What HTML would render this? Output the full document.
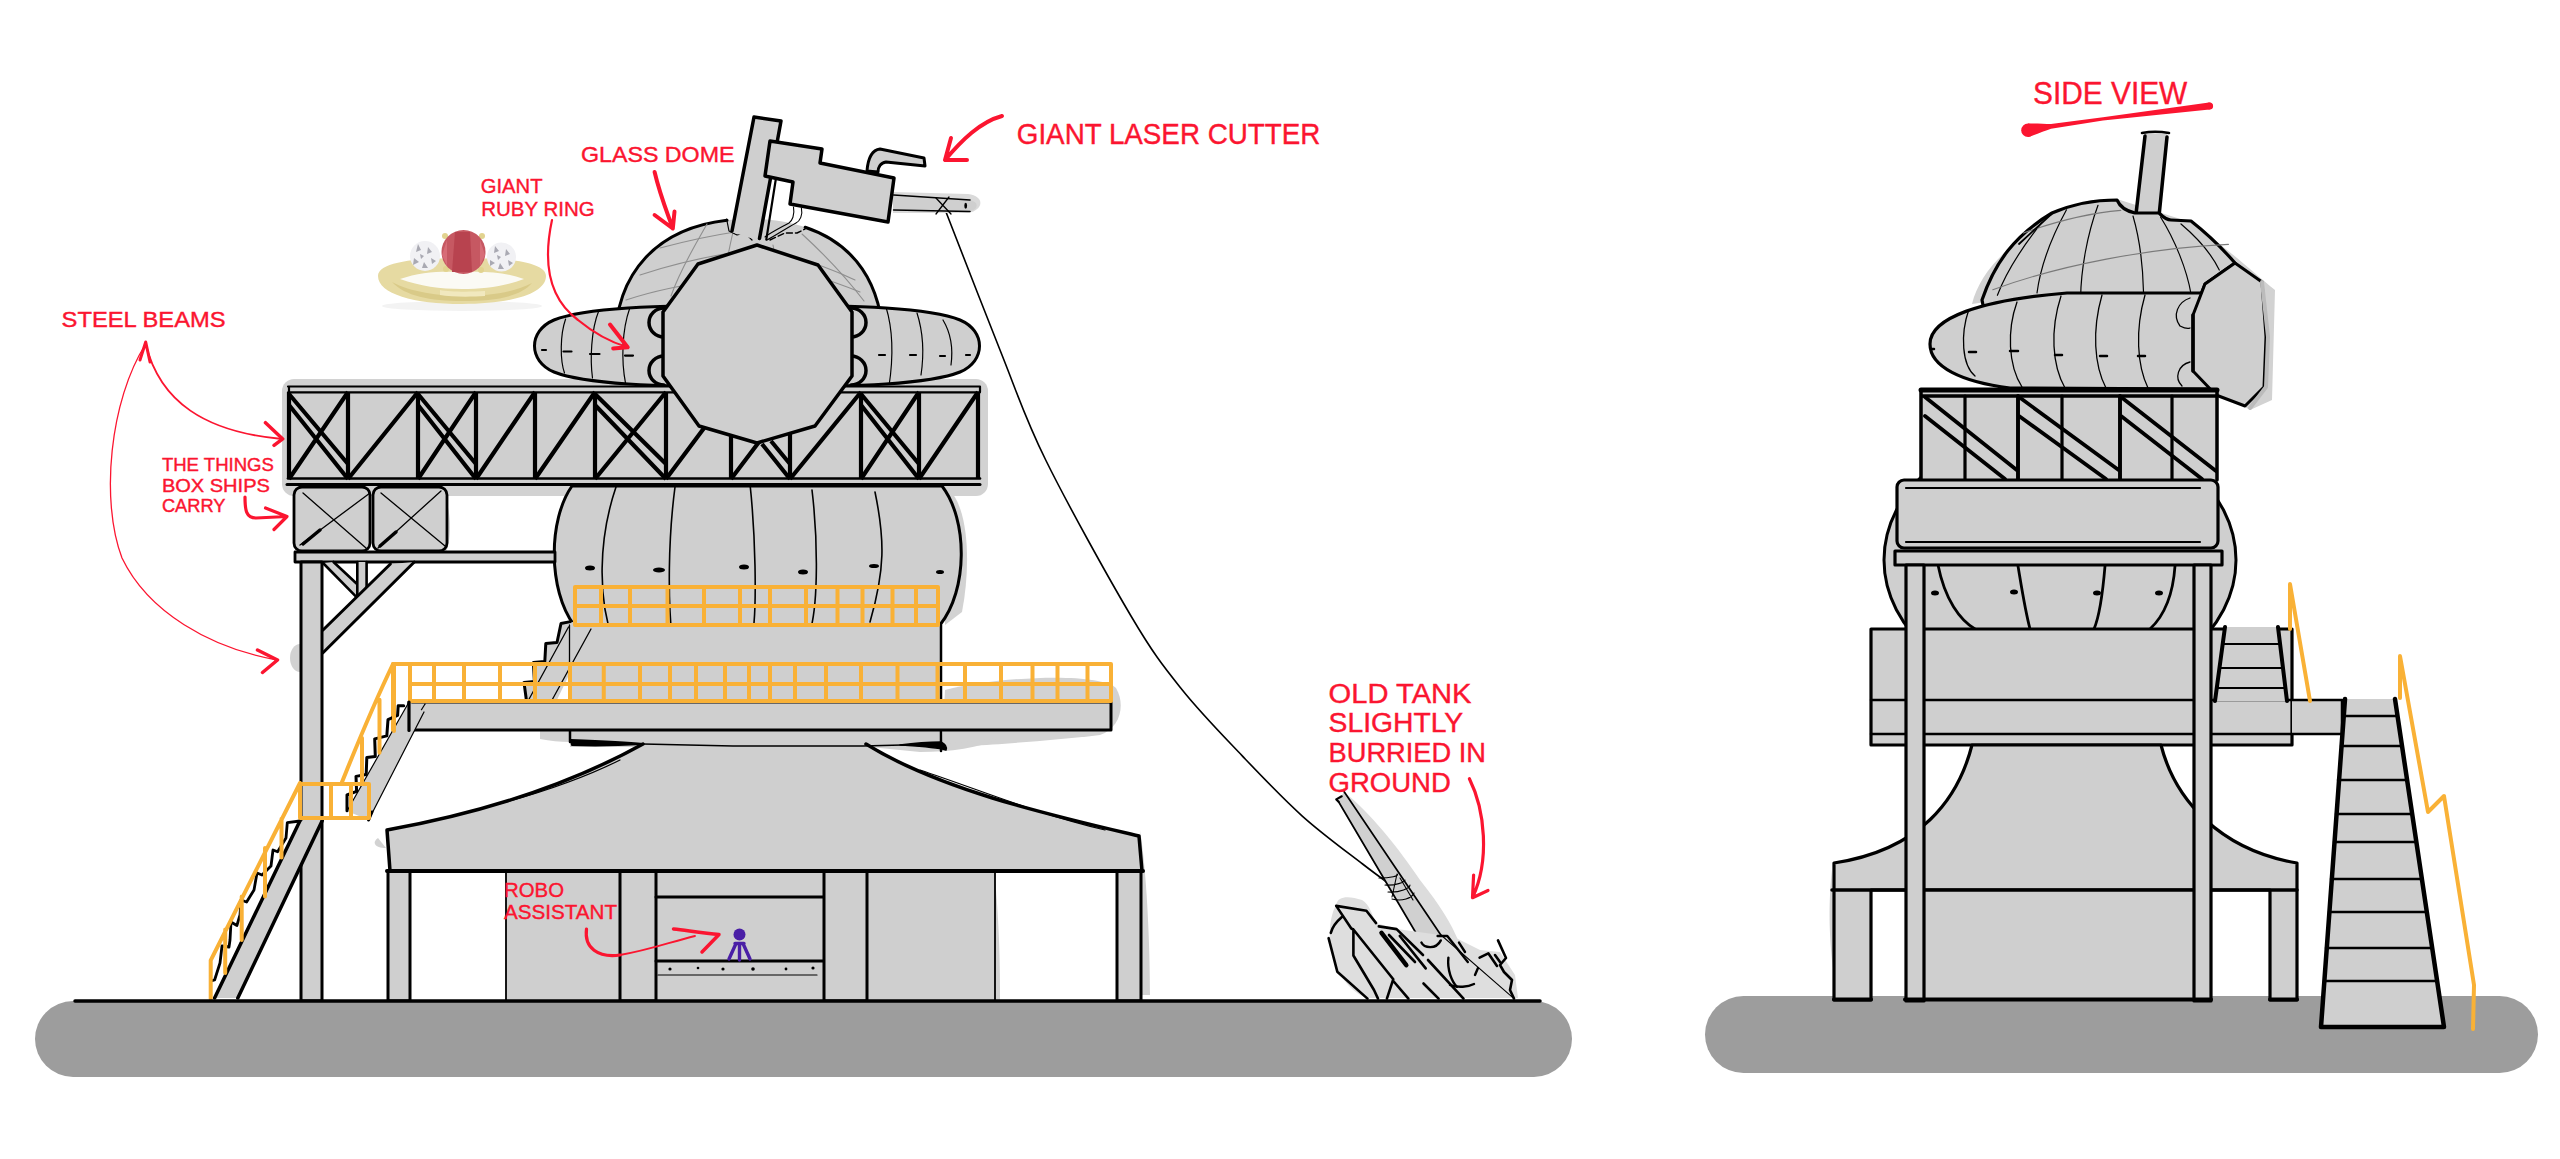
<!DOCTYPE html>
<html><head><meta charset="utf-8"><style>
html,body{margin:0;padding:0;background:#fff;width:2560px;height:1159px;overflow:hidden}
svg{display:block}
text{font-family:"Liberation Sans",sans-serif;fill:#fb1530;stroke:#fb1530;stroke-width:0.4px}
</style></head><body>
<svg width="2560" height="1159" viewBox="0 0 2560 1159">
<defs>
  <clipPath id="ringclip"><path d="M757 305 C860 305 930 308 960 320 C986 331 986 361 960 372 C930 384 860 387 757 387 C654 387 584 384 554 372 C528 361 528 331 554 320 C584 308 654 305 757 305 Z"/></clipPath>
  <clipPath id="bandclip"><path d="M2212 389 L2010 388 C1962 382 1930 367 1930 344 C1930 318 1980 300 2067 293 L2202 293 L2212 389 Z"/></clipPath>
</defs>
<rect x="0" y="0" width="2560" height="1159" fill="#fff"/>

<!-- ============ LEFT VIEW ============ -->
<g id="left" stroke="#000" stroke-linejoin="round" stroke-linecap="round">
  <!-- shadows -->
  <g fill="#d2d2d2" stroke="none">
    <rect x="282" y="379" width="706" height="117" rx="12"/>
    <path d="M540 731 L570 731 L570 742 C560 742 550 741 540 739 Z"/>
    <path d="M440 492 C452 500 452 540 446 552 L440 552 Z"/>
    <path d="M945 690 C1000 676 1100 672 1116 688 C1126 705 1120 728 1100 735 C1040 742 960 747 942 747 Z"/>
    <path d="M943 485 C968 498 972 560 962 612 L945 625 Z"/>
    <path d="M860 746 C900 748 940 745 1000 738 C980 748 950 752 920 752 Z"/>
    <path d="M1140 830 C1148 880 1150 960 1150 995 L1141 995 L1141 850 Z"/>
    <path d="M995 880 C1000 930 1000 980 1000 1000 L990 1000 Z"/>
    <ellipse cx="300" cy="658" rx="10" ry="14"/>
    <path d="M378 838 C372 842 374 848 386 848 Z"/>
    
  </g>

  <!-- laser line -->
  <path d="M946 212 C955.1 235.2 983.8 309.7 1000.4 351 C1017.0 392.3 1023.9 415.8 1045.7 460 C1067.5 504.2 1108.4 577.8 1131 616 C1153.6 654.2 1163.0 665.8 1181.5 689 C1200.0 712.2 1221.7 734.3 1241.8 755.4 C1261.9 776.5 1281.9 797.7 1302 815.8 C1322.1 833.9 1347.1 852.0 1362.6 864 C1378.1 876.0 1389.6 884.0 1395 888" fill="none" stroke-width="1.6"/>

  <!-- dome -->
  <path d="M615 345 C615 262 670 219 750 219 C830 219 883 262 883 345 Z" fill="#cfcfcf" stroke="none"/>
  <path d="M615 345 C615 262 670 219 750 219 C830 219 883 262 883 345" fill="none" stroke-width="3" stroke-dasharray="186.3 79 200"/>
  <g fill="none" stroke="#8f8f8f" stroke-width="1.1">
    <path d="M626 300 C650 292 680 285 720 280"/>
    <path d="M640 275 C670 265 700 258 730 253"/>
    <path d="M660 248 C690 240 715 235 735 232"/>
    <path d="M707 224 C695 245 680 270 671 296"/>
    <path d="M733 232 C730 245 727 260 725 272"/>
    <path d="M802 234 C825 255 848 280 864 301"/>
    <path d="M769 250 C800 258 830 268 855 280"/>
    <path d="M812 275 C835 282 850 288 860 292"/>
    <path d="M773 245 C775 255 776 262 777 270"/>
  </g>
    <path d="M726.6 219 L729 231 L737 235 L745 233 L752 240" fill="none" stroke-width="1.2"/>
  <path d="M770 240 L785 233 L797 233 L805 229" fill="none" stroke-width="1.4" stroke-dasharray="6 3"/>

  <!-- laser arm -->
  <path d="M754 117 L781 121 L760 241 L731 232 Z" fill="#cfcfcf" stroke="none"/>
  <path d="M732 231 L754 117 L781 121 L759.5 238.5" fill="none" stroke-width="3.5"/>
  <path d="M776 178 L766.3 239.6" fill="none" stroke-width="2.2"/>
  <path d="M793.5 207 C795 215 792 221 789 223 C780 228 770 233 765 237 M801.4 208 C803 215 800 221 796 223 C785 229 775 236 767 240" fill="none" stroke-width="1.1"/>
  <path d="M867 171 C868 158 872 150 880 149 L924 158 L925 166 L886 162 C880 163 878 168 878 172 Z" fill="#cfcfcf" stroke-width="3"/>
  <path d="M893 192 L968 194 C985 196 984 210 968 213 L893 213 Z" fill="#dadada" stroke="none"/>
  <path d="M893 196 L970 200 C979 202 979 209 970 211.5 L893 210 Z" fill="#cfcfcf" stroke="none"/>
  <path d="M893.6 195 L970 200 M893.6 210 L970 211.5" fill="none" stroke-width="1.6"/>
  <path d="M936 198 L951 214 M949 197 L936 214" fill="none" stroke-width="1.3"/>
  <ellipse cx="965.7" cy="205.7" rx="1.4" ry="3" fill="#000" stroke="none"/>
  <path d="M770 141 L822 149 L820 163 L894 178 L888 222 L790 204 L793 182 L765 176 Z" fill="#cfcfcf" stroke-width="3.5"/>

  <!-- ring ellipse -->
  <path d="M757 305 C860 305 930 308 960 320 C986 331 986 361 960 372 C930 384 860 387 757 387 C654 387 584 384 554 372 C528 361 528 331 554 320 C584 308 654 305 757 305 Z" fill="#cfcfcf" stroke-width="3"/>
  <g fill="none" stroke-width="1.2" clip-path="url(#ringclip)">
    <path d="M565.6 319 C560 335 560 360 564.5 373"/>
    <path d="M598.7 311 C591 330 590 360 592.5 378"/>
    <path d="M629.8 308 C622 330 621 360 625.6 383.6"/>
    <path d="M886 307 C893 330 893 360 889 386"/>
    <path d="M917 313 C924 335 924 355 921 375"/>
    <path d="M943 320 C952 335 953 350 951 365"/>
  </g>
  <path d="M542 350 h4 M563.5 351.5 h8 M590 354 h9.5 M625 355.6 h8 M879 355 h6 M910 355 h6 M940 356 h5 M966 355 h4" fill="none" stroke-width="2.2"/>
  <path d="M664 308 A15 14.5 0 0 0 664 337 M664 356 A15 14.5 0 0 0 664 385 M851 308 A15 14.5 0 0 1 851 337 M851 356 A15 14.5 0 0 1 851 385" fill="#cfcfcf" stroke-width="3.5"/>

  <!-- truss -->
  <rect x="288" y="386" width="692" height="99" fill="#cfcfcf" stroke="none"/>
  <g fill="none" stroke-width="2.2">
    <path d="M288 386.5H980 M288 392.3H980 M980 386.5V392 M289 386.5V392"/>
    <path d="M288 478.5H980" stroke-width="2.6"/>
    <path d="M287 484.5H980" stroke-width="3"/>
  </g>
  <g fill="none" stroke-width="4.2" stroke-linecap="butt">
    <path d="M289 392V479 M348 392V479 M418 392V479 M476 392V479 M535 392V479 M595 392V479 M666 392V479 M731 392V479 M790 392V479 M861 392V479 M919 392V479 M978 392V479"/>
    <path d="M289 479L348 392 M289 394L348 464 M289 405L348 479 M348 479L418 392 M418 479L476 392 M418 394L476 464 M418 405L476 479 M476 479L535 392 M535 479L595 392 M595 479L666 392 M595 394L666 464 M595 405L666 479 M666 479L731 392 M731 479L760.5 440 M762 444L790 479 M771 441L790 464 M790 479L861 392 M861 479L919 392 M861 394L919 464 M861 405L919 479 M919 479L978 392"/>
  </g>

  <!-- decagon -->
  <path d="M757 245 L818 265 L852 312 L852 376 L815 426 L757 443 L699 426 L663 376 L663 312 L698 264 Z" fill="#cfcfcf" stroke-width="3.5"/>

  <!-- sphere body -->
  <path d="M572 486 C548 520 548 590 574 625 L940 625 C968 590 968 520 942 486 Z" fill="#cfcfcf" stroke-width="3"/>
  <g fill="none" stroke-width="1.6">
    <path d="M616 487 C598 540 598 600 613 640"/>
    <path d="M675 487 C668 540 668 600 672 638"/>
    <path d="M750 484 C756 540 756 600 754 623"/>
    <path d="M812 490 C818 540 818 600 811 628"/>
    <path d="M875 492 C885 540 885 570 870 622"/>
  </g>
  <g fill="#000" stroke="none">
    <ellipse cx="590" cy="568" rx="5" ry="2.5"/>
    <ellipse cx="659" cy="570" rx="6" ry="2.5"/>
    <ellipse cx="744" cy="567" rx="5" ry="2.5"/>
    <ellipse cx="803" cy="572" rx="5" ry="2.5"/>
    <ellipse cx="874" cy="566" rx="5" ry="2"/>
    <ellipse cx="940" cy="572" rx="4" ry="2"/>
  </g>
  <rect x="570" y="625" width="371" height="122" fill="#cfcfcf" stroke="none"/>
  <path d="M570 625 V742 M941 625 V751" fill="none" stroke-width="2.5"/>
  <!-- small stairs up to sphere railing -->
  <path d="M570.4 621.6 L561 623.5 L557 642.5 L545.8 643.5 L544.8 661.5 L533.4 662.4 L534.4 681.4 L524 682.4 L526.8 703.3 L555 704 L592 627 Z" fill="#cfcfcf" stroke="none"/>
  <path d="M570.4 621.6 L561 623.5 L557 642.5 L545.8 643.5 L544.8 661.5 L533.4 662.4 L534.4 681.4 L524 682.4 L526.8 703.3 M528.7 704 L555 704" fill="none" stroke-width="3"/>
  <path d="M568.5 627 L528 701 M591 629 L551.5 701 M569.5 625 V703" fill="none" stroke-width="1.3"/>

  <!-- upper railing -->
  <path d="M575 587H938 M575 606H938 M575 625H938 M575 587V625 M601 587V625 M630 587V625 M667.5 587V625 M704 587V625 M740 587V625 M770 587V625 M806 587V625 M837.5 587V625 M862.5 587V625 M892.5 587V625 M916 587V625 M938 587V625" fill="none" stroke="#f9b136" stroke-width="4"/>

  <!-- boxes -->
  <rect x="294" y="487" width="76" height="64" rx="8" fill="#cfcfcf" stroke-width="2.8"/>
  <rect x="373" y="487" width="74" height="64" rx="8" fill="#cfcfcf" stroke-width="2.8"/>
  <path d="M303 493 L366 548 M300 545 L370 493 M381 493 L445 546 M378 548 L441 491" fill="none" stroke-width="1.3"/>
  <path d="M303 544 L320 530 M380 546 L396 532" fill="none" stroke-width="3.5"/>
  <rect x="295" y="552" width="260" height="10" fill="#cfcfcf" stroke-width="2.8"/>
  <!-- pillar + braces -->
  <path d="M323 563 L333.5 562 L357.3 584.3 L357.3 562 L366.6 562 L366.6 588 L357.3 597 Z" fill="#cfcfcf" stroke="none"/>
  <path d="M323 563 L356.3 596.8 M333.5 562 L357.3 584.3 M357.3 562 V597 M366.6 562 V588" fill="none" stroke-width="2.6"/>
  <path d="M323 630 L390.4 564 L414.3 562 L323 652.7 Z" fill="#cfcfcf" stroke="none"/>
  <path d="M323 630 L390.4 564 M414.3 562 L323 652.7" fill="none" stroke-width="3"/>
  <rect x="301" y="562" width="21" height="439" fill="#cfcfcf" stroke-width="3"/>

  <!-- platform -->
  <rect x="409" y="702" width="702" height="28" fill="#cfcfcf" stroke-width="3"/>
  <path d="M425 704 L409 730" fill="none" stroke-width="1.2"/>
  <!-- lower railing -->
  <path d="M393 664H1111 M410 684H1111 M410 701H1111 M393 664V730 M410 664V701 M434 664V701 M464 664V701 M500 664V701 M535 664V701 M570 664V701 M603.75 664V701 M640 664V701 M670 664V701 M696 664V701 M725 664V701 M749 664V701 M770 664V701 M795 664V701 M826 664V701 M861 664V701 M897.5 664V701 M937.5 664V701 M965 664V701 M1001 664V701 M1032.5 664V701 M1057.5 664V701 M1087.5 664V701 M1111 664V701" fill="none" stroke="#f9b136" stroke-width="4"/>

  <!-- stairs -->
  <path d="M347 811 L409 702 L424 712 L368.6 820 Z" fill="#cfcfcf" stroke="none"/>
  <path d="M347 811 L409 702 M368.6 820 L424 712" fill="none" stroke-width="1.2"/>
  <path d="M368.6 820 L372 812" fill="none" stroke-width="3"/>
  <path d="M409 702 V730.5" fill="none" stroke-width="3.2"/>
  <path d="M403.7 705.7 L398.2 705.7 L397.6 715.4 L388 719.6 L386.8 735.9 L374.7 738.9 L375.3 756.4 L366.8 757.6 L366.2 774.5 L356 776.4 L356.6 791.4 L347 795 L347 810.8" fill="none" stroke-width="3"/>
  <path d="M214.6 998 L300 820.7 L322.2 820.7 L237.8 998 Z" fill="#cfcfcf" stroke="none"/>
  <path d="M214.6 998 L300 820.7 M237.8 998 L322.2 820.7" fill="none" stroke-width="3.5"/>
  <path d="M300 821 L287.3 822.7 L286 838 L277.6 851.8 L273 850 L271 866 L262 875 L257 873 L254 890 L246.6 902 L241 900 L240 915 L236.9 925.5 L231 922 L230 940 L229 947 L222 946 L220 963 L214.6 980 L211 981" fill="none" stroke-width="2.8"/>
  <path d="M210.7 999 V960.4 L300 783 M225.2 973 V929.4 M241.7 940 V896.4 M265 896.4 V848 M281.5 857.6 V818.8 M300 783 V818 M300 784 H369 V818 H300 M331 784 V818 M351 784 V818 M342 782 C355 750 370 712 393 664 M362 781.8 V738 M379.5 752.8 V699.7 M394 731 V664" fill="none" stroke="#f9b136" stroke-width="4"/>

  <!-- roof -->
  <path d="M641 745 C560 790 470 815 387 830 L390 871 L1142 871 L1139 836 C1050 815 940 790 867 745 Z" fill="#cfcfcf" stroke="none"/>
  <path d="M643 744 C560 790 470 815 387 830 L390 871 M1142 871 L1139 836 C1050 815 940 790 866 744" fill="none" stroke-width="3.5"/>
  <path d="M643 744 L733 746 L863 746 L941 744" fill="none" stroke-width="1.3"/>
  <path d="M571 740 C600 741 625 742 643 744 C625 745 600 746 572 745 Z" fill="#000" stroke-width="2"/>
  <path d="M900 745 C915 743 930 742 941 742 C945 744 947 747 946 750 C935 747 915 746 900 745 Z" fill="#000" stroke-width="1.5"/>

  <path d="M455 815 C520 800 580 780 620 760 M1105 830 C1040 815 980 790 920 770" fill="none" stroke="#000" stroke-width="1.2"/>
  <rect x="506" y="871" width="489" height="130" fill="#cfcfcf" stroke="none"/>
  <path d="M506 871 V1000 M995 871 V1000" fill="none" stroke-width="1.8"/>
  <rect x="620" y="871" width="36" height="130" fill="#cfcfcf" stroke-width="3"/>
  <rect x="824" y="871" width="43" height="130" fill="#cfcfcf" stroke-width="3"/>
  <path d="M656 897 H823 M656 961 H823" fill="none" stroke-width="3"/>
  <path d="M658 975 H817" fill="none" stroke-width="1.2"/>
  <g fill="#000" stroke="none">
    <circle cx="670" cy="969" r="1.6"/><circle cx="698" cy="968" r="1.3"/><circle cx="723" cy="969" r="1.6"/><circle cx="753" cy="969" r="1.8"/><circle cx="786" cy="969" r="1.4"/><circle cx="813" cy="968" r="1.6"/>
  </g>
  <rect x="388" y="871" width="22" height="130" fill="#cfcfcf" stroke-width="3"/>
  <rect x="1117" y="871" width="24" height="130" fill="#cfcfcf" stroke-width="3"/>
  <path d="M387 871 H1143" fill="none" stroke-width="4"/>

  <!-- robot -->
  <circle cx="739.5" cy="934.5" r="6" fill="#4a1fa6" stroke="none"/>
  <path d="M736 943.5 L729 959 M743 943.5 L750 959 M739.5 943.5 V960 M735 943.5 H744" fill="none" stroke="#4a1fa6" stroke-width="3.4"/>

  <!-- ground -->
  <rect x="35" y="1001" width="1537" height="76" rx="38" fill="#9d9d9d" stroke="none"/>
  <line x1="75" y1="1001" x2="1540" y2="1001" stroke-width="3.5"/>

  <!-- tank -->
  <g>
    <path d="M1344 792 C1370 812 1400 850 1420 880 C1440 905 1452 925 1458 940 L1421 942 L1338 802 Z" fill="#dcdcdc" stroke="none"/>
    <path d="M1344 792 L1441 935 L1421 942 L1338 802 Z" fill="#d0d0d0" stroke="none"/>
    <path d="M1344 791.6 L1441 935.3 M1338.6 801.7 L1421 941.5" fill="none" stroke-width="1.7"/>
    <path d="M1338.6 801.7 L1336.3 799.4 L1341.7 796.3" fill="none" stroke-width="2.2"/>
    <path d="M1379 878 C1390 878 1400 876 1397 874 M1385 885 C1395 886 1405 882 1405 880 M1388 892 C1400 893 1410 888 1410 885 M1392 899 C1402 902 1412 898 1414 893 M1397 874 L1392 897 M1400 878 L1413 900" fill="none" stroke-width="1.1"/>
<path d="M1336 905 C1338 895 1350 896 1362 900 C1370 905 1372 915 1376 923 L1397 929 L1440 935 L1452 936 L1480 950 L1500 952 L1515 975 L1518 998 L1367 998 C1345 990 1332 965 1330 940 C1329 925 1332 912 1336 905 Z" fill="#dedede" stroke="none"/>
    <path d="M1336.2 905.9 L1366.4 910.7 L1376.1 923.1 M1378.8 926.4 L1396.6 929.1 L1423 955 M1428 960 L1463.5 998.6 M1336.2 905.9 L1351.3 928.5 L1353.4 929.5 L1353.4 955.5 L1374 990 L1378 998.6 M1341.6 917.2 C1336 922 1332 928 1330.8 932.9 M1328.6 938.2 L1337.3 971.7 L1367.5 998.6 M1353.4 929.5 L1393.3 979.2 L1386.9 998.6 M1393.3 981 L1408.4 998.6 M1389 935 L1415 962 M1399.8 936 L1425.7 968.4 M1423.5 983.5 L1438.6 998.6" fill="none" stroke-width="2.6"/>
    <path d="M1381.5 932.9 L1406.3 965.2" fill="none" stroke-width="4.5"/>
    <path d="M1421.4 942.6 C1424 948 1436 950 1440.8 940.4 M1437.6 936 L1447.3 936 L1467.8 962 M1459 942.6 L1465 952 M1448.4 957.7 C1447 970 1452 982 1457 986.8" fill="none" stroke-width="2.4"/>
    <path d="M1450 985 C1458 988 1468 987 1474 984 M1475 975 L1478 968" fill="none" stroke-width="2.4"/>
    <path d="M1441 935 L1514 998.6" fill="none" stroke-width="1.1"/>
    <path d="M1479.6 957.7 L1488.3 953.3 L1497 966 M1498 940.4 L1506 958 L1500 965 L1504 972 L1512 980 L1510 990 L1514 998.6 M1495 955 L1500 962" fill="none" stroke-width="2.6"/>
  </g>
</g>

<!-- ============ RIGHT VIEW ============ -->
<g id="right" stroke="#000" stroke-linejoin="round" stroke-linecap="round">
  <!-- ground -->
  <rect x="1705" y="996" width="833" height="77" rx="38.5" fill="#9d9d9d" stroke="none"/>
  <!-- shadows -->
  <g fill="#d2d2d2" stroke="none">
    <path d="M1972 304 C1985 250 2060 205 2120 200 L2190 222 C2230 250 2250 270 2275 290 L2272 400 L2250 410 L2230 398 L2000 300 Z"/>
    <path d="M1832 870 C1825 930 1835 990 1840 1000 L1836 1000 Z"/>
  </g>
  <!-- sphere behind -->
  <ellipse cx="2060" cy="560" rx="176" ry="135" fill="#cfcfcf" stroke-width="3"/>
  <!-- chimney -->
  <path d="M2145 133 L2167 134 L2159 216 L2136 214 Z" fill="#cfcfcf" stroke="none"/>
  <path d="M2145 136 L2136 214 M2167 137 L2159 216" fill="none" stroke-width="3.5"/>
  <path d="M2142 133 C2150 131.5 2160 131.5 2169 133" fill="none" stroke-width="2.6"/>
  <!-- dome -->
  <path d="M1982 300 C1995 262 2015 235 2052 213 C2075 203 2095 200 2117 200 C2120 207 2126 211 2135 213 L2159 213 C2164 218 2168 220 2171 220 L2191 221 C2205 232 2222 248 2235 263 L2205 284 L2193 315 L2193 372 L2216 395 L2202 390 L2000 390 Z" fill="#cfcfcf" stroke-width="3.2"/>
  <g fill="none" stroke-width="1.2">
    <path d="M2041.5 222.8 C2020 250 2005 275 1997.4 295.3"/>
    <path d="M2066.5 209.8 C2050 240 2040 270 2037 293"/>
    <path d="M2098 205.3 C2087 235 2081 270 2080.6 297.6"/>
    <path d="M2133 216 C2140 240 2143 270 2143.5 292"/>
    <path d="M2160.5 217 C2175 240 2187 270 2191 294"/>
    <path d="M2181 224 C2200 240 2212 255 2219.3 270"/>
  </g>
  <path d="M1992.8 289.7 C2060 265 2150 248 2228.4 244.4 M2023.4 233 C2060 220 2090 213 2120.8 210.4" fill="none" stroke="#7a7a7a" stroke-width="1.1"/>
  <path d="M2019 244 L2051.7 213.8" fill="none" stroke-width="1.8"/>
  <!-- band -->
  <path d="M2212 389 L2010 388 C1962 382 1930 367 1930 344 C1930 318 1980 300 2067 293 L2202 293 L2212 389 Z" fill="#cfcfcf" stroke-width="3.2"/>
  <g fill="none" stroke-width="1.3" clip-path="url(#bandclip)">
    <path d="M1969 309 C1960 335 1962 365 1975 376"/>
    <path d="M2017 302 C2007 330 2008 365 2022 387"/>
    <path d="M2061 296 C2050 330 2052 365 2065 388"/>
    <path d="M2102 295 C2092 330 2094 365 2106 388"/>
    <path d="M2145 295 C2135 330 2137 365 2148 388"/>
    <path d="M2190 298 C2178 302 2172 315 2180 326 C2184 328 2188 329 2190 328"/>
    <path d="M2190 362 C2178 365 2174 378 2182 386"/>
  </g>
  <path d="M1931 349 h3 M1969 352 h7 M2010 351 h8 M2055 355 h7 M2100 356 h7 M2138 356 h7" fill="none" stroke-width="2.5"/>
  <!-- hex -->
  <path d="M2235 263 L2262 282 L2266 337 L2264 387 L2245 406 L2216 395 L2193 371 L2193 315 L2205 284 Z" fill="#cfcfcf" stroke-width="3"/>
  <path d="M2262 282 L2268 337 L2266 387 L2250 408" fill="none" stroke="#bbb" stroke-width="4"/>
  <path d="M2193 315 L2193 371" fill="none" stroke-width="3.5"/>

  <path d="M1938 565 C1945 600 1960 620 1975 629 M2018 566 C2022 590 2025 610 2030 629 M2105 566 C2103 590 2100 615 2094 629 M2175 566 C2173 595 2165 615 2150 629" fill="none" stroke-width="2.8"/>
  <g fill="#000" stroke="none">
    <ellipse cx="1935" cy="593" rx="4" ry="2.5"/><ellipse cx="2014" cy="592" rx="4" ry="2.5"/><ellipse cx="2097" cy="593" rx="4" ry="2.5"/><ellipse cx="2159" cy="593" rx="4" ry="2.5"/>
  </g>

  <!-- truss box -->
  <rect x="1921" y="390" width="296" height="90" fill="#cfcfcf" stroke="none"/>
  <path d="M1921 390 H2217 V480 M1921 390 V480 M1921 396 H2217" fill="none" stroke-width="3.5"/>
  <path d="M1921 390 H2217" fill="none" stroke-width="5"/>
  <path d="M1965 396 V479 M2018 396 V479 M2062 396 V479 M2120 396 V479 M2172 396 V479" fill="none" stroke-width="3.2"/>
  <path d="M1925 397 L2018 471 M1925 416 L2005 479 M2019 397 L2120 471 M2019 416 L2106 479 M2121 397 L2216 471 M2121 416 L2202 479 M2018 396 V479 M2120 396 V479" fill="none" stroke-width="3.8"/>

  <!-- rounded box -->
  <rect x="1897" y="480" width="321" height="68" rx="7" fill="#cfcfcf" stroke-width="3.2"/>
  <path d="M1906 488 H2200 M1906 542 H2200" fill="none" stroke-width="2.2"/>
  <rect x="1895" y="551" width="327" height="14" fill="#cfcfcf" stroke-width="3.2"/>

  <!-- wide box -->
  <rect x="1871" y="629" width="421" height="116" fill="#cfcfcf" stroke-width="3.2"/>
  <path d="M1871 700 H2292 M1871 734 H2292" fill="none" stroke-width="2.5"/>
  <path d="M2292 700 H2342 V734 H2292" fill="#cfcfcf" stroke-width="2.5"/>
  <!-- bell -->
  <path d="M1972 745 C1958 800 1920 850 1834 863 L1834 1000 L1871 1000 L1871 890 L2270 890 L2270 1000 L2297 1000 L2297 863 C2220 850 2175 800 2161 745 Z" fill="#cfcfcf" stroke-width="3.2"/>
  <rect x="1906" y="889" width="305" height="111" fill="#cfcfcf" stroke="none"/>
  <path d="M1832 890 H2297" fill="none" stroke-width="3.5"/>
  <rect x="1906" y="565" width="18" height="436" fill="#cfcfcf" stroke-width="3.2"/>
  <rect x="2194" y="565" width="17" height="436" fill="#cfcfcf" stroke-width="3.2"/>
  <path d="M1905 999.5 H2211 M1834 999.5 H1871 M2270 999.5 H2297" fill="none" stroke-width="4"/>

  <!-- small ladder -->
  <path d="M2225 627 L2215 701 L2287 701 L2278 627 Z" fill="#cfcfcf" stroke="none"/>
  <path d="M2225 627 L2215 701 M2278 627 L2287 701" fill="none" stroke-width="4"/>
  <path d="M2222 644 H2280 M2219 668 H2283 M2217 688 H2285" fill="none" stroke-width="2.2"/>


  <!-- big ladder -->
  <path d="M2345 699 L2395 699 L2444 1027 L2321 1027 Z" fill="#cfcfcf" stroke="none"/>
  <path d="M2345 699 L2321 1027 L2444 1027 L2395 699" fill="none" stroke-width="4.5"/>
  <path d="M2343 716 H2397 M2341 746 H2402 M2338 780 H2407 M2336 814 H2412 M2334 842 H2416 M2331 879 H2422 M2329 912 H2426 M2326 948 H2432 M2324 981 H2437" fill="none" stroke-width="2.5"/>

  <!-- orange rails -->
  <path d="M2290 629 L2290 584 L2310 701" fill="none" stroke="#f9b136" stroke-width="4"/>
  <path d="M2400 698 L2400 656 L2428 812 L2444 796 L2474 985 L2473 1029" fill="none" stroke="#f9b136" stroke-width="4"/>
</g>

<!-- ============ TEXT ============ -->
<g id="labels">
  <!-- ring photo -->
  <g stroke="none">
    <ellipse cx="462" cy="306" rx="80" ry="5" fill="#f3f3f3"/>
    <path d="M378 276 C378 262 420 257 462 259 C505 257 546 262 546 276 C546 294 510 304 462 304 C414 304 378 294 378 276 Z" fill="#e6daa2"/>
    <path d="M400 279 C420 272 440 271 462 272 C485 271 505 272 524 279 C505 286 485 289 462 289 C440 289 420 286 400 279 Z" fill="#fbfaf4"/>
    <path d="M392 282 C410 292 440 296 462 296 C490 296 515 292 532 283 C520 297 495 301 462 301 C430 301 405 296 392 282 Z" fill="#d9ca88"/>
    <path d="M440 290 C450 292 470 292 485 291 L485 296 C470 297 452 297 440 295 Z" fill="#f1e8be"/>
    <circle cx="425" cy="256" r="15" fill="#f1f1f4"/>
    <circle cx="501.5" cy="257" r="14.5" fill="#f1f1f4"/>
    <g fill="#a9a9b2"><path d="M418 244 L421 250 L416 252 Z M428 247 L432 252 L427 254 Z M414 258 L419 262 L413 265 Z M424 262 L428 268 L422 268 Z M431 258 L436 261 L432 264 Z M420 254 L424 256 L421 259 Z"/><path d="M495 246 L499 251 L494 253 Z M506 249 L510 254 L505 256 Z M490 260 L495 263 L490 266 Z M500 263 L504 269 L498 269 Z M508 260 L513 263 L509 266 Z M497 255 L501 257 L498 260 Z"/></g>
    <circle cx="445" cy="236" r="3" fill="#e2d38f"/><circle cx="482" cy="236" r="3" fill="#e2d38f"/>
    <circle cx="446" cy="269" r="3" fill="#e2d38f"/><circle cx="481" cy="270" r="3" fill="#e2d38f"/>
    <circle cx="463.5" cy="252" r="22" fill="#c65862"/>
    <path d="M455 232 L452 272 L472 272 L470 232 Z" fill="#b8434f"/>
    <path d="M447 240 L442 255 L447 266 Z M480 240 L485 255 L480 266 Z" fill="#d76d77"/>
  </g>

  <!-- texts -->
  <text x="1016.8" y="143.5" font-size="29.5" textLength="303.5" lengthAdjust="spacingAndGlyphs">GIANT LASER CUTTER</text>
  <text x="581" y="162.3" font-size="22.5" textLength="153.5" lengthAdjust="spacingAndGlyphs">GLASS DOME</text>
  <text x="480.8" y="193.4" font-size="20.2" textLength="61.7" lengthAdjust="spacingAndGlyphs">GIANT</text>
  <text x="481.3" y="215.5" font-size="20.2" textLength="113.3" lengthAdjust="spacingAndGlyphs">RUBY RING</text>
  <text x="61.6" y="326.7" font-size="22.2" textLength="164" lengthAdjust="spacingAndGlyphs">STEEL BEAMS</text>
  <text x="161.9" y="471.2" font-size="17.8" textLength="112" lengthAdjust="spacingAndGlyphs">THE THINGS</text>
  <text x="161.9" y="491.7" font-size="17.8" textLength="108" lengthAdjust="spacingAndGlyphs">BOX SHIPS</text>
  <text x="161.9" y="512.2" font-size="17.8" textLength="63.6" lengthAdjust="spacingAndGlyphs">CARRY</text>
  <text x="2033" y="103.6" font-size="32" textLength="154.3" lengthAdjust="spacingAndGlyphs">SIDE VIEW</text>
  <text x="1328.6" y="703" font-size="27" textLength="142.9" lengthAdjust="spacingAndGlyphs">OLD TANK</text>
  <text x="1328.6" y="732" font-size="27" textLength="134.6" lengthAdjust="spacingAndGlyphs">SLIGHTLY</text>
  <text x="1328.6" y="762" font-size="27" textLength="157.4" lengthAdjust="spacingAndGlyphs">BURRIED IN</text>
  <text x="1328.6" y="792" font-size="27" textLength="122.2" lengthAdjust="spacingAndGlyphs">GROUND</text>
  <text x="504" y="897" font-size="20" textLength="60" lengthAdjust="spacingAndGlyphs">ROBO</text>
  <text x="504" y="919" font-size="20" textLength="113" lengthAdjust="spacingAndGlyphs">ASSISTANT</text>

  <!-- arrows -->
  <g fill="none" stroke="#fb1530" stroke-linecap="round" stroke-linejoin="round">
    <path d="M1002 116 C980 122 962 140 945 160 M951 138 L945 160 L967 160" stroke-width="4"/>
    <path d="M654.6 172 C660 195 667 212 672.8 228.5 M654.6 215 L672.8 228.5 L674.5 211.6" stroke-width="4"/>
    <path d="M552 220 C543 262 548 298 578 320 C595 334 610 342 627 347" stroke-width="2.2"/>
    <path d="M610 324.5 L627.7 347.3 L613.2 348.4" stroke-width="4"/>
    <path d="M145.7 344 C160 402 205 432 282 439" stroke-width="1.8"/>
    <path d="M145.7 344 C110 400 100 500 122 558 C148 612 210 648 277 660" stroke-width="1.3"/>
    <path d="M140 360 L145.7 342 L150 362" stroke-width="3"/>
    <path d="M265.5 422.7 L282.7 438.9 L274 445.3 M257.5 650 L277.5 660 L262.5 672.5" stroke-width="3.5"/>
    <path d="M245 497 C245 510 246 518 256 518 L287 516.5 M265.5 508 L287 516.5 L274 529.5" stroke-width="3.2"/>
    <path d="M586.5 929 C584 948 598 958 620 955" stroke-width="3.2"/>
    <path d="M620 955 C650 950 670 942 695 936" stroke-width="1.8"/>
    <path d="M673.5 929 C690 931 705 933 719 934.5 L702 952" stroke-width="3.5"/>
    <path d="M1469.4 778.7 C1485 810 1490 860 1472.5 897.7 M1473.6 875 L1472.5 897.7 L1488 890.5" stroke-width="3.2"/>
  </g>
  <!-- side view underline -->
  <circle cx="2028" cy="130.2" r="6.8" fill="#fb1530"/>
  <path d="M2028 123.5 C2038 123.5 2045 124 2051 124 L2103 117.3 L2209 102.5 C2213.5 102.5 2214 109 2209.5 109.5 L2103 120.5 L2051 128.7 C2045 130.5 2038 134 2028 137 Z" fill="#fb1530"/>
  <circle cx="2209.5" cy="106" r="3.6" fill="#fb1530"/>
</g>
</svg>
</body></html>
